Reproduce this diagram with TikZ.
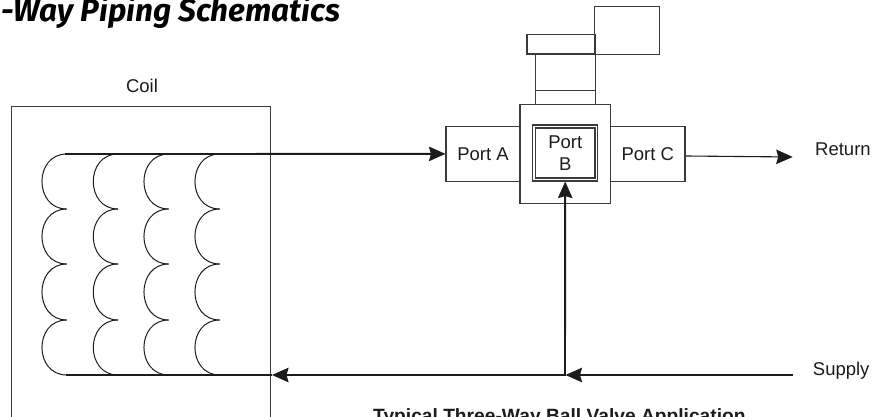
\documentclass[tikz,border=0pt]{standalone}
\usepackage{fontspec}
\setmainfont{Liberation Sans}
\newfontfamily\titlefont{Fira Sans}
\usetikzlibrary{arrows.meta}
\definecolor{ink}{HTML}{1C1C1A}
\definecolor{boxline}{HTML}{3A3A38}
\tikzset{
  x=1pt,y=-1pt,
  labeltext/.style={font=\fontsize{18.5}{21}\selectfont,text=ink,inner sep=0pt,align=center},
  part/.style={draw=boxline,line width=1.1pt,inner sep=0pt,fill=white,labeltext},
  pipe/.style={draw=ink,line width=1.9pt},
  thinpipe/.style={draw=ink,line width=1.1pt},
  headed/.style={-{Stealth[length=16.5pt,width=14.5pt,inset=2pt]}},
  winding/.style={draw=ink,line width=1pt},
}
\begin{document}
\begin{tikzpicture}
\useasboundingbox (0,0) rectangle (872,417);
\clip (0,0) rectangle (872,417);
\fill[white] (0,0) rectangle (872,417);
% title and caption
\node[anchor=base west,inner sep=0pt,text=black,font=\titlefont\bfseries\itshape\fontsize{31.5}{34}\selectfont] (title) at (1,21.5) {-Way Piping Schematics};
\node[anchor=base west,inner sep=0pt,text=ink,font=\bfseries\fontsize{19.2}{22}\selectfont] (caption) at (373,422.7) {Typical Three-Way Ball Valve Application};
% coil
\node[draw=boxline,line width=1pt,minimum width=259pt,minimum height=330pt,inner sep=0pt] (coil) at (140.5,272) {};
\node[labeltext] (coillabel) at (142,86) {Coil};
\coordinate (coilTop) at (65,154);
\coordinate (coilBottom) at (66,375);
\coordinate (coilIn) at (272,375);
\foreach \c/\bulge in {66.7/33,118/33,168.7/33,219.7/33}{
  \foreach \ya/\yb in {154/209,209/264,264/320,320/375}{
    \draw[winding] (\c,\ya) .. controls (\c-\bulge,\ya) and (\c-\bulge,\yb) .. (\c,\yb);
  }
}
% valve
\node[part,minimum width=64.5pt,minimum height=47.5pt] (actuator) at (627,30.5) {};
\node[part,minimum width=59.5pt,minimum height=50.5pt] (stem) at (565.3,79.3) {};
\node[part,minimum width=68pt,minimum height=19.7pt] (handle) at (561,44.2) {};
\node[part,minimum width=59.5pt,minimum height=14pt] (collar) at (565.3,97.5) {};
\node[part,minimum width=74pt,minimum height=54.3pt] (porta) at (483,153.9) {Port A};
\node[part,minimum width=74.3pt,minimum height=54.3pt] (portc) at (647.8,153.9) {Port C};
\node[part,minimum width=90.7pt,minimum height=98.3pt] (body) at (565.3,153.9) {};
\node[part,minimum width=65pt,minimum height=56pt] (portb) at (565.2,153) {};
\node[part,minimum width=59.3pt,minimum height=50pt] (portbinner) at (565.3,153) {Port\\[1pt]B};
% end labels
\node[labeltext,anchor=base west] (return) at (815,155) {Return};
\node[labeltext,anchor=base west] (supply) at (812.7,375) {Supply};
\coordinate (returnStart) at (686,156);
\coordinate (returnEnd) at (792.7,157);
\coordinate (supplyEnd) at (792.7,375);
\coordinate (tee) at (565,375);
\coordinate (teeTip) at (565.5,375);
% connectors
\draw[pipe,headed] (coilTop) -- (porta.west);
\draw[thinpipe,headed] (returnStart) -- (returnEnd);
\draw[pipe,headed] (tee) -- (portb.south);
\draw[pipe,headed] (supplyEnd) -- (teeTip);
\draw[pipe,headed] (teeTip) -- (coilIn);
\draw[pipe] (coilBottom) -- (coilIn);
\end{tikzpicture}
\end{document}
